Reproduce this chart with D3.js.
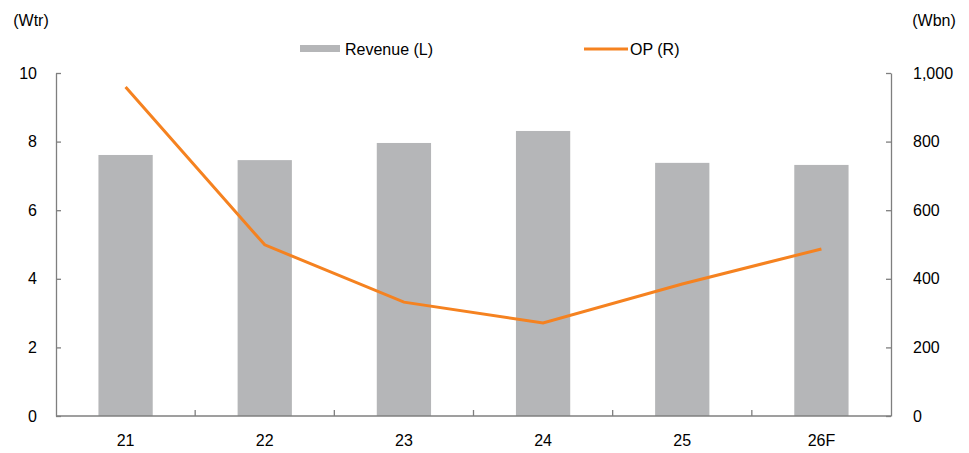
<!DOCTYPE html>
<html>
<head>
<meta charset="utf-8">
<script src="https://cdn.jsdelivr.net/npm/d3@7"></script>
<style>
  body { margin: 0; background: #fff; }
  text { font-family: "Liberation Sans", Arial, sans-serif; fill: #000; }
</style>
</head>
<body>
<div id="chart"></div>
<script>
const years = ["21", "22", "23", "24", "25", "26F"]
const revenue = [7.61, 7.46, 7.96, 8.31, 7.38, 7.32] // Wtr, left axis
const op = [959, 499, 332, 271, 385, 487] // Wbn, right axis
const leftTicks = [0, 2, 4, 6, 8, 10]
const rightTicks = [0, 200, 400, 600, 800, 1000]

const width = 969
const height = 453
const margin = { top: 73, bottom: 37, left: 56, right: 78 }
const innerW = width - margin.left - margin.right
const innerH = height - margin.top - margin.bottom

const svg = d3
  .select("#chart")
  .append("svg")
  .attr("width", width)
  .attr("height", height)

const g = svg.append("g").attr("transform", `translate(${margin.left},${margin.top})`)

// scales
const x = d3.scaleBand().domain(years).range([0, innerW])
const yL = d3.scaleLinear().domain([0, 10]).range([innerH, 0])
const yR = d3.scaleLinear().domain([0, 1000]).range([innerH, 0])
const barW = x.bandwidth() * 0.39

// bars
g.selectAll("rect.bar")
  .data(years)
  .join("rect")
  .attr("class", "bar")
  .attr("x", (d) => x(d) + (x.bandwidth() - barW) / 2)
  .attr("width", barW)
  .attr("y", (d, i) => yL(revenue[i]))
  .attr("height", (d, i) => innerH - yL(revenue[i]))
  .attr("fill", "#b5b6b8")

// OP line
const line = d3
  .line()
  .x((d, i) => x(years[i]) + x.bandwidth() / 2)
  .y((d) => yR(d))

g.append("path")
  .datum(op)
  .attr("d", line)
  .attr("fill", "none")
  .attr("stroke", "#f58220")
  .attr("stroke-width", 3)

// axes
const axisColor = "#7f7f7f"
const styleAxis = (sel) => {
  sel.select(".domain").attr("stroke", axisColor).attr("stroke-width", 1.3)
  sel.selectAll(".tick line").attr("stroke", axisColor).attr("stroke-width", 1.3)
  sel.selectAll(".tick text").style("font-size", "16px").attr("fill", "#000")
}

const gLeft = g
  .append("g")
  .call(d3.axisLeft(yL).tickValues(leftTicks).tickSize(-5).tickSizeOuter(0).tickPadding(19))
  .call(styleAxis)

const gRight = g
  .append("g")
  .attr("transform", `translate(${innerW},0)`)
  .call(
    d3.axisRight(yR).tickValues(rightTicks).tickSize(-5).tickSizeOuter(0).tickPadding(22)
      .tickFormat(d3.format(","))
  )
  .call(styleAxis)

// x axis with ticks at band boundaries pointing up
const gx = g.append("g").attr("transform", `translate(0,${innerH})`)
gx.append("line")
  .attr("x1", 0)
  .attr("x2", innerW)
  .attr("stroke", axisColor)
  .attr("stroke-width", 1.3)
gx.selectAll("line.sep")
  .data(years.slice(1))
  .join("line")
  .attr("class", "sep")
  .attr("x1", (d) => x(d))
  .attr("x2", (d) => x(d))
  .attr("y1", 0)
  .attr("y2", -6)
  .attr("stroke", axisColor)
  .attr("stroke-width", 1.3)
gx.selectAll("text")
  .data(years)
  .join("text")
  .attr("x", (d) => x(d) + x.bandwidth() / 2)
  .attr("y", 30)
  .attr("text-anchor", "middle")
  .style("font-size", "16px")
  .text((d) => d)

// unit labels
svg.append("text").attr("x", 31).attr("y", 26).attr("text-anchor", "middle").style("font-size", "16px").text("(Wtr)")
svg.append("text").attr("x", 934).attr("y", 26).attr("text-anchor", "middle").style("font-size", "16px").text("(Wbn)")

// legend
const legend = svg.append("g")
legend.append("rect").attr("x", 300).attr("y", 45).attr("width", 40).attr("height", 7).attr("fill", "#b5b6b8")
legend.append("text").attr("x", 345).attr("y", 55).style("font-size", "16px").text("Revenue (L)")
legend.append("line").attr("x1", 584).attr("x2", 628).attr("y1", 49).attr("y2", 49)
  .attr("stroke", "#f58220").attr("stroke-width", 3)
legend.append("text").attr("x", 630).attr("y", 55).style("font-size", "16px").text("OP (R)")
</script>
</body>
</html>
